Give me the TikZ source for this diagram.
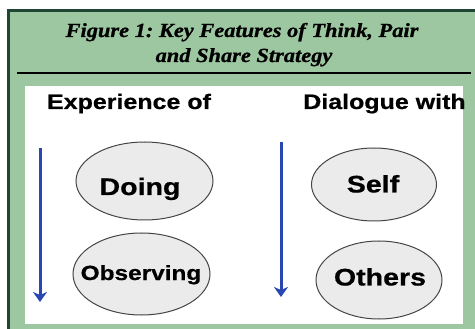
\documentclass[tikz,border=0pt]{standalone}
\usepackage{fontspec}
\setmainfont{Liberation Serif}
\newfontfamily\titlefont[FakeStretch=1.12,FakeBold=0.9]{Liberation Serif Bold Italic}
\newfontfamily\labfont[FakeStretch=1.19,FakeBold=0.6]{Liberation Sans Bold}
\usetikzlibrary{arrows.meta,shapes.geometric}
\definecolor{boxgreen}{HTML}{9DC7A1}
\definecolor{darkgreen}{HTML}{1E4632}
\definecolor{arrowblue}{HTML}{2847B2}
\definecolor{ellfill}{HTML}{EBEBEB}
\definecolor{ellline}{HTML}{454545}
\frenchspacing
\tikzset{
  ell/.style={ellipse, draw=ellline, line width=1pt, fill=ellfill, inner sep=0pt},
  head/.style={anchor=base, font=\labfont\fontsize{21}{24}\selectfont, inner sep=0pt},
  lab/.style={anchor=base, font=\labfont\fontsize{24}{28}\selectfont, inner sep=0pt},
  flow/.style={draw=arrowblue, line width=3pt, -{Stealth[length=10pt,width=14pt,inset=3pt]}},
  titletext/.style={anchor=base, font=\titlefont\fontsize{20}{25}\selectfont, inner sep=0pt}
}
\begin{document}
\begin{tikzpicture}[x=1pt,y=-1pt]
\useasboundingbox (0,0) rectangle (475,329);
% outer green panel
\fill[boxgreen] (8.3,10.3) rectangle (476,330);
\draw[darkgreen, line width=2.7pt] (8.3,331) -- (8.3,10.3) -- (476,10.3);
% title
\node[titletext] (t1) at (242,37) {Figure 1: Key Features of Think, Pair};
\node[titletext] (t2) at (244,62) {and Share Strategy};
\draw[black, line width=2.6pt] (17,73) -- (471,73);
% white panel
\fill[white] (25,86) rectangle (463,324);
% headings
\node[head] (h1) at (129,109) {Experience of};
\node[head] (h2) at (384.5,109) {Dialogue with};
% ellipses
\node[ell, minimum width=137pt, minimum height=78pt] (doing) at (144.5,181) {};
\node[ell, minimum width=137pt, minimum height=82pt] (obs) at (141.5,274) {};
\node[ell, minimum width=125pt, minimum height=73pt] (self) at (374,184.5) {};
\node[ell, minimum width=126pt, minimum height=78pt] (others) at (379,280) {};
% labels
\node[lab] (ldoing) at (140,195) {Doing};
\node[lab, font=\labfont\fontsize{20.5}{24}\selectfont] (lobs) at (141,280) {Observing};
\node[lab] (lself) at (373,192.5) {Self};
\node[lab] (lothers) at (380,285.5) {Others};
% arrows
\coordinate (a1s) at (40,148);
\coordinate (a1e) at (40,302);
\coordinate (a2s) at (281,142.5);
\coordinate (a2e) at (281,297);
\draw[flow] (a1s) -- (a1e);
\draw[flow] (a2s) -- (a2e);
\end{tikzpicture}
\end{document}
